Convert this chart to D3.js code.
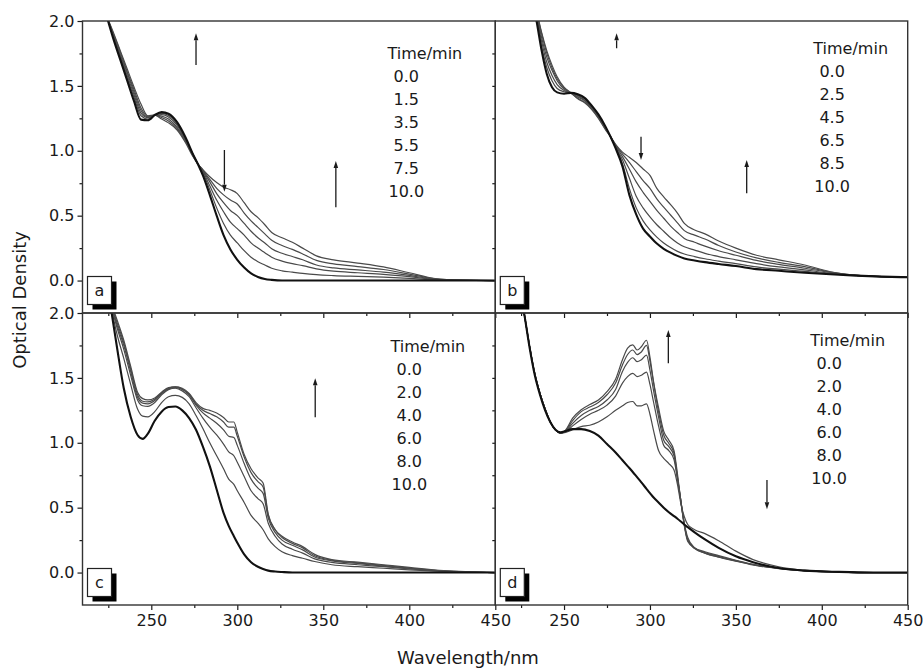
<!DOCTYPE html>
<html>
<head>
<meta charset="utf-8">
<script src="https://cdn.jsdelivr.net/npm/d3@7"></script>
<style>
  body { margin: 0; background: #fff; }
  svg { font-family: "DejaVu Sans", sans-serif; }
</style>
</head>
<body>
<svg width="924" height="668"></svg>
<script>
// ---- data (wavelength in nm, optical density) ----
// panel a
const wlA = [224,228,232,236,240,244,248,252,256,260,265,270,274,277,280,284,288,292,296,300,304,308,312,316,320,326,332,338,346,356,370,385,400,415,430,450];
const odA = [
  [2.04,1.86,1.70,1.54,1.38,1.24,1.235,1.275,1.298,1.285,1.22,1.10,0.98,0.90,0.81,0.66,0.50,0.35,0.24,0.16,0.10,0.055,0.028,0.012,0.005,0,0,0,0,0,0,0,0,0,0,0],
  [2.04,1.87,1.72,1.56,1.41,1.27,1.245,1.275,1.288,1.272,1.205,1.09,0.98,0.90,0.83,0.70,0.56,0.44,0.35,0.29,0.23,0.18,0.145,0.12,0.095,0.075,0.065,0.055,0.045,0.038,0.032,0.026,0.017,0.005,0.001,0],
  [2.04,1.88,1.73,1.58,1.43,1.29,1.255,1.275,1.278,1.26,1.195,1.085,0.975,0.90,0.84,0.73,0.62,0.53,0.45,0.40,0.35,0.29,0.25,0.215,0.18,0.15,0.13,0.115,0.09,0.072,0.06,0.048,0.03,0.008,0.002,0],
  [2.04,1.89,1.74,1.60,1.45,1.31,1.26,1.275,1.267,1.245,1.18,1.08,0.97,0.90,0.845,0.76,0.67,0.60,0.54,0.50,0.44,0.38,0.33,0.29,0.245,0.21,0.185,0.16,0.12,0.097,0.082,0.065,0.04,0.01,0.002,0],
  [2.04,1.90,1.76,1.61,1.47,1.33,1.265,1.275,1.256,1.23,1.17,1.07,0.965,0.90,0.85,0.78,0.71,0.66,0.62,0.59,0.52,0.46,0.41,0.36,0.31,0.27,0.24,0.205,0.155,0.128,0.108,0.085,0.05,0.013,0.003,0],
  [2.04,1.91,1.77,1.63,1.49,1.36,1.27,1.275,1.245,1.215,1.16,1.06,0.96,0.90,0.855,0.80,0.755,0.72,0.70,0.67,0.60,0.53,0.485,0.43,0.37,0.33,0.295,0.25,0.19,0.16,0.135,0.105,0.06,0.015,0.003,0]
];
const timesA = ["0.0","1.5","3.5","5.5","7.5","10.0"];

// panel b
const wlB = [230,234,237,240,243,246,250,254,258,262,266,270,274,277,280,284,288,292,296,300,304,308,312,316,320,326,332,340,350,362,375,390,405,420,435,450];
const odB = [
  [2.25,2.0,1.77,1.59,1.49,1.45,1.44,1.446,1.435,1.408,1.35,1.28,1.19,1.11,1.02,0.88,0.66,0.51,0.40,0.34,0.285,0.245,0.215,0.19,0.17,0.155,0.142,0.128,0.112,0.088,0.075,0.06,0.048,0.038,0.03,0.025],
  [2.27,2.02,1.80,1.64,1.54,1.48,1.455,1.446,1.43,1.40,1.345,1.275,1.185,1.11,1.025,0.90,0.71,0.56,0.46,0.39,0.335,0.29,0.255,0.225,0.205,0.185,0.168,0.15,0.13,0.105,0.088,0.07,0.052,0.04,0.031,0.025],
  [2.28,2.04,1.84,1.68,1.58,1.51,1.465,1.446,1.425,1.39,1.34,1.27,1.18,1.11,1.03,0.93,0.79,0.65,0.56,0.49,0.43,0.38,0.33,0.29,0.26,0.235,0.21,0.185,0.16,0.13,0.105,0.082,0.057,0.04,0.031,0.025],
  [2.29,2.06,1.87,1.72,1.62,1.54,1.475,1.446,1.415,1.385,1.33,1.26,1.175,1.11,1.04,0.955,0.86,0.76,0.68,0.61,0.54,0.48,0.42,0.37,0.325,0.295,0.265,0.23,0.195,0.155,0.125,0.095,0.062,0.04,0.03,0.025],
  [2.30,2.07,1.90,1.75,1.64,1.555,1.485,1.446,1.405,1.375,1.325,1.255,1.17,1.11,1.045,0.975,0.91,0.84,0.77,0.71,0.63,0.565,0.505,0.445,0.385,0.35,0.32,0.27,0.22,0.175,0.14,0.108,0.065,0.04,0.03,0.025],
  [2.30,2.08,1.91,1.77,1.66,1.57,1.49,1.446,1.40,1.37,1.32,1.25,1.165,1.11,1.05,0.99,0.95,0.91,0.86,0.81,0.71,0.645,0.585,0.52,0.44,0.39,0.36,0.305,0.25,0.195,0.16,0.12,0.068,0.04,0.03,0.025]
];
const timesB = ["0.0","2.5","4.5","6.5","8.5","10.0"];

// panel c
const wlC = [226,230,234,238,242,245,248,252,256,260,264,268,272,276,280,284,288,292,295,298,300,304,308,312,315,318,322,326,332,338,345,355,370,385,400,420,450];
const odC = [
  [2.08,1.74,1.42,1.20,1.06,1.03,1.07,1.17,1.24,1.275,1.28,1.25,1.19,1.10,0.97,0.82,0.64,0.46,0.36,0.28,0.23,0.14,0.08,0.045,0.028,0.015,0.008,0.004,0,0,0,0,0,0,0,0,0],
  [2.09,1.84,1.65,1.45,1.26,1.205,1.20,1.24,1.31,1.355,1.365,1.35,1.30,1.21,1.11,1.00,0.90,0.80,0.72,0.68,0.63,0.54,0.44,0.38,0.33,0.26,0.20,0.16,0.13,0.11,0.085,0.06,0.045,0.033,0.02,0.008,0],
  [2.09,1.89,1.72,1.52,1.33,1.285,1.28,1.31,1.37,1.41,1.42,1.40,1.355,1.27,1.19,1.12,1.06,0.99,0.93,0.90,0.85,0.74,0.63,0.57,0.53,0.38,0.28,0.22,0.18,0.15,0.105,0.078,0.06,0.045,0.028,0.01,0],
  [2.10,1.91,1.75,1.55,1.35,1.305,1.30,1.325,1.38,1.415,1.425,1.41,1.37,1.29,1.23,1.19,1.15,1.10,1.05,1.04,0.98,0.84,0.72,0.65,0.61,0.42,0.31,0.25,0.21,0.175,0.12,0.09,0.07,0.05,0.032,0.012,0],
  [2.10,1.93,1.77,1.57,1.37,1.32,1.315,1.335,1.385,1.42,1.43,1.415,1.375,1.30,1.25,1.225,1.20,1.16,1.12,1.12,1.05,0.89,0.77,0.70,0.66,0.44,0.33,0.27,0.225,0.19,0.13,0.095,0.075,0.055,0.035,0.013,0],
  [2.10,1.95,1.79,1.59,1.39,1.34,1.33,1.345,1.39,1.425,1.43,1.42,1.38,1.31,1.265,1.25,1.23,1.195,1.16,1.16,1.08,0.91,0.80,0.73,0.69,0.45,0.33,0.28,0.235,0.20,0.14,0.10,0.08,0.06,0.04,0.015,0]
];
const timesC = ["0.0","2.0","4.0","6.0","8.0","10.0"];

// panel d
const wlD = [224,227,230,233,236,239,242,245,248,251,255,260,265,270,275,280,284,287,290,292.5,295,298,300,302,305,308,311,314,316,318,320,322,326,332,340,350,360,375,390,410,430,450];
const odD = [
  [2.2,1.98,1.73,1.52,1.37,1.25,1.16,1.10,1.08,1.09,1.105,1.105,1.09,1.055,0.99,0.925,0.865,0.82,0.775,0.735,0.695,0.645,0.612,0.58,0.54,0.50,0.465,0.435,0.415,0.393,0.37,0.35,0.31,0.255,0.19,0.125,0.08,0.035,0.015,0.005,0,0],
  [2.2,1.98,1.74,1.53,1.38,1.26,1.16,1.10,1.075,1.08,1.10,1.125,1.135,1.16,1.20,1.25,1.285,1.31,1.318,1.285,1.285,1.30,1.22,1.10,0.94,0.88,0.84,0.79,0.68,0.53,0.43,0.37,0.33,0.30,0.245,0.165,0.10,0.045,0.018,0.005,0,0],
  [2.2,1.98,1.74,1.53,1.38,1.26,1.16,1.10,1.075,1.085,1.13,1.18,1.22,1.25,1.29,1.36,1.46,1.51,1.535,1.51,1.52,1.545,1.45,1.32,1.13,0.98,0.94,0.87,0.72,0.55,0.38,0.27,0.19,0.15,0.118,0.088,0.058,0.03,0.013,0.004,0,0],
  [2.2,1.98,1.74,1.53,1.38,1.26,1.16,1.10,1.075,1.09,1.15,1.21,1.25,1.28,1.33,1.41,1.55,1.62,1.655,1.625,1.64,1.675,1.56,1.41,1.20,1.02,0.97,0.90,0.73,0.55,0.37,0.25,0.185,0.15,0.12,0.09,0.06,0.032,0.014,0.004,0,0],
  [2.2,1.98,1.74,1.53,1.38,1.26,1.16,1.10,1.075,1.095,1.17,1.24,1.275,1.31,1.37,1.46,1.60,1.68,1.715,1.68,1.70,1.75,1.63,1.47,1.24,1.06,0.995,0.92,0.74,0.55,0.37,0.25,0.19,0.155,0.125,0.092,0.062,0.033,0.014,0.004,0,0],
  [2.2,1.98,1.74,1.53,1.38,1.26,1.16,1.10,1.075,1.10,1.19,1.255,1.295,1.33,1.395,1.49,1.64,1.73,1.755,1.715,1.74,1.79,1.66,1.48,1.27,1.09,1.02,0.94,0.76,0.55,0.36,0.24,0.19,0.16,0.13,0.095,0.063,0.033,0.014,0.004,0,0]
];
const timesD = ["0.0","2.0","4.0","6.0","8.0","10.0"];

// arrows: wavelength, tail OD, head OD
const arrowsA = [[276, 1.66, 1.905], [292.5, 1.006, 0.685], [357.3, 0.565, 0.921]];
const arrowsB = [[280.6, 1.79, 1.905], [294.8, 1.109, 0.929], [356.3, 0.673, 0.929]];
const arrowsC = [[345.3, 1.196, 1.497]];
const arrowsD = [[310.7, 1.612, 1.869], [368.1, 0.713, 0.488]];

// axes
const xMajor = [250, 300, 350, 400, 450];
const xMinor = [225, 275, 325, 375, 425];
const yMajor = [0, 0.5, 1.0, 1.5, 2.0];
const yMinor = [-0.25, 0.25, 0.75, 1.25, 1.75];

// ---- layout ----
const svg = d3.select('svg');
const colX = [82.5, 495.3, 907.7];
const rowY = [21, 313, 605];

const panels = [
  {id: 'a', col: 0, row: 0, wl: wlA, od: odA, times: timesA, arrows: arrowsA, leg: [305, 38.3]},
  {id: 'b', col: 1, row: 0, wl: wlB, od: odB, times: timesB, arrows: arrowsB, leg: [318, 33.3]},
  {id: 'c', col: 0, row: 1, wl: wlC, od: odC, times: timesC, arrows: arrowsC, leg: [308, 38.7]},
  {id: 'd', col: 1, row: 1, wl: wlD, od: odD, times: timesD, arrows: arrowsD, leg: [315, 32.7]}
];

const ink = '#1a1a1a';

panels.forEach(p => {
  const x0 = colX[p.col], x1 = colX[p.col + 1];
  const y0 = rowY[p.row], y1 = rowY[p.row + 1];
  const x = d3.scaleLinear().domain([210, 450]).range([x0, x1]);
  const y = d3.scaleLinear().domain([-0.25, 2.0]).range([y1, y0]);
  const g = svg.append('g');

  // clip the spectra to the frame
  svg.append('clipPath').attr('id', 'clip-' + p.id)
    .append('rect').attr('x', x0).attr('y', y0).attr('width', x1 - x0).attr('height', y1 - y0);

  const line = d3.line()
    .x((d, i) => x(p.wl[i]))
    .y(d => y(d))
    .curve(d3.curveMonotoneX);

  const curves = g.append('g').attr('clip-path', `url(#clip-${p.id})`);
  // thin lines first, thick (t = 0) on top
  p.od.slice(1).forEach(s => {
    curves.append('path').attr('d', line(s))
      .attr('fill', 'none').attr('stroke', '#4a4a4a').attr('stroke-width', 1.2);
  });
  curves.append('path').attr('d', line(p.od[0]))
    .attr('fill', 'none').attr('stroke', '#111').attr('stroke-width', 2.1);

  // left axis
  if (p.col === 0) {
    g.append('g').attr('transform', `translate(${x0},0)`)
      .call(d3.axisLeft(y).tickValues(yMajor).tickFormat(d3.format('.1f')).tickSize(5).tickPadding(3))
      .call(a => a.select('.domain').remove());
    g.append('g').attr('transform', `translate(${x0},0)`)
      .call(d3.axisLeft(y).tickValues(yMinor.filter(v => v > -0.25)).tickFormat('').tickSize(3))
      .call(a => a.select('.domain').remove());
  } else {
    g.append('g').attr('transform', `translate(${x0},0)`)
      .call(d3.axisLeft(y).tickValues(yMajor.concat(yMinor).filter(v => v > 0 && v < 2)).tickFormat('').tickSize(3))
      .call(a => a.select('.domain').remove());
  }

  // bottom axis
  g.append('g').attr('transform', `translate(0,${y1})`)
    .call(d3.axisBottom(x).tickValues(xMajor).tickSize(5).tickPadding(5)
      .tickFormat(p.row === 1 ? d3.format('d') : ''))
    .call(a => a.select('.domain').remove());
  g.append('g').attr('transform', `translate(0,${y1})`)
    .call(d3.axisBottom(x).tickValues(xMinor).tickFormat('').tickSize(3))
    .call(a => a.select('.domain').remove());

  g.selectAll('.tick line').attr('stroke', ink).attr('stroke-width', 1.2);
  g.selectAll('.tick text').attr('fill', ink).style('font-size', '16px')
    .style('font-family', '"DejaVu Sans", sans-serif');

  // frame
  g.append('rect').attr('x', x0).attr('y', y0).attr('width', x1 - x0).attr('height', y1 - y0)
    .attr('fill', 'none').attr('stroke', '#333').attr('stroke-width', 1.4);

  // panel letter box with shadow
  const bxX = x0 + 5, bxY = y1 - 36.5;
  g.append('rect').attr('x', bxX + 5).attr('y', bxY + 5).attr('width', 24).attr('height', 28).attr('fill', '#000');
  g.append('rect').attr('x', bxX).attr('y', bxY).attr('width', 24).attr('height', 28)
    .attr('fill', '#fff').attr('stroke', '#222').attr('stroke-width', 1.2);
  g.append('text').attr('x', bxX + 12).attr('y', bxY + 19.5).attr('text-anchor', 'middle')
    .style('font-size', '16px').attr('fill', ink).text(p.id);

  // legend
  const leg = g.append('g').attr('transform', `translate(${x0 + p.leg[0]},${y0 + p.leg[1]})`)
    .style('font-size', '16px').attr('fill', ink);
  leg.append('text').text('Time/min');
  leg.selectAll('.t').data(p.times).enter().append('text')
    .attr('class', 't')
    .attr('x', 1)
    .attr('y', (d, i) => 23 * (i + 1))
    .text(d => (d.length < 4 ? '\u00a0' : '') + d);

  // arrows
  p.arrows.forEach(([nm, from, to]) => {
    const ax = x(nm), ya = y(from), yb = y(to);
    const dir = yb < ya ? -1 : 1;
    const base = yb - dir * 7;
    g.append('line').attr('x1', ax).attr('x2', ax).attr('y1', ya).attr('y2', base)
      .attr('stroke', ink).attr('stroke-width', 1.3);
    g.append('path')
      .attr('d', `M${ax},${yb} L${ax - 2.3},${base} L${ax + 2.3},${base} Z`)
      .attr('fill', ink);
  });
});

// axis titles
svg.append('text')
  .attr('transform', 'translate(26,300) rotate(-90)')
  .attr('text-anchor', 'middle')
  .style('font-size', '18px').attr('fill', ink)
  .text('Optical Density');
svg.append('text')
  .attr('x', 468).attr('y', 664)
  .attr('text-anchor', 'middle')
  .style('font-size', '18px').attr('fill', ink)
  .text('Wavelength/nm');
</script>
</body>
</html>
